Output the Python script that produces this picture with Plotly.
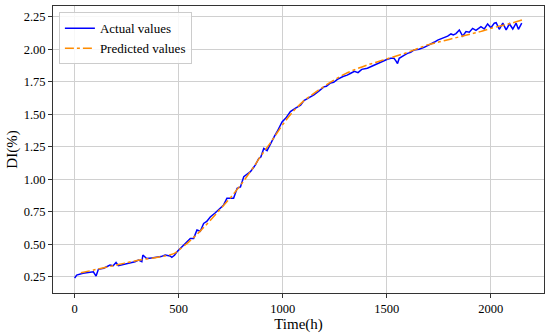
import plotly.graph_objects as go

actual_t = [0, 10, 40, 90, 103, 114, 140, 170, 185, 199, 210, 240, 267, 290, 307, 323, 328, 346,
            370, 394, 415, 435, 459, 467, 480, 491, 510, 531, 556, 572, 588, 604, 620, 635, 652,
            675, 700, 715, 732, 764, 781, 797, 813, 830, 845, 869, 885, 895, 909, 925, 949, 960,
            973, 985, 997, 1015, 1037, 1060, 1086, 1102, 1125, 1150, 1175, 1198, 1210, 1230, 1245,
            1263, 1290, 1310, 1327, 1345, 1362, 1380, 1407, 1430, 1455, 1471, 1503, 1520, 1535,
            1544, 1552, 1560, 1568, 1585, 1600, 1615, 1632, 1655, 1680, 1695, 1712, 1730, 1745,
            1770, 1793, 1809, 1820, 1833, 1849, 1865, 1881, 1897, 1913, 1929, 1945, 1953, 1969,
            1985, 2001, 2017, 2026, 2041, 2058, 2074, 2090, 2106, 2122, 2133, 2149]
actual_v = [0.24, 0.263, 0.276, 0.288, 0.255, 0.307, 0.315, 0.34, 0.335, 0.36, 0.335, 0.345, 0.353,
            0.365, 0.378, 0.366, 0.417, 0.39, 0.395, 0.40, 0.405, 0.417, 0.41, 0.40, 0.415, 0.44,
            0.47, 0.507, 0.545, 0.545, 0.61, 0.60, 0.66, 0.675, 0.71, 0.74, 0.776, 0.80, 0.853,
            0.853, 0.93, 0.94, 1.02, 1.04, 1.058, 1.11, 1.16, 1.17, 1.237, 1.22, 1.30, 1.33, 1.365,
            1.40, 1.44, 1.47, 1.52, 1.545, 1.57, 1.604, 1.625, 1.648, 1.68, 1.71, 1.715, 1.74,
            1.745, 1.768, 1.79, 1.80, 1.815, 1.83, 1.82, 1.845, 1.853, 1.87, 1.89, 1.90, 1.922,
            1.93, 1.93, 1.91, 1.89, 1.93, 1.94, 1.955, 1.968, 1.975, 1.994, 2.00, 2.014, 2.025,
            2.04, 2.055, 2.07, 2.085, 2.10, 2.117, 2.11, 2.12, 2.148, 2.10, 2.135, 2.13, 2.16,
            2.145, 2.165, 2.173, 2.155, 2.194, 2.165, 2.20, 2.204, 2.153, 2.20, 2.148, 2.195,
            2.155, 2.20, 2.153, 2.20]

pred_t = [30, 100, 200, 300, 400, 450, 480, 500, 550, 600, 650, 700, 750, 800, 850, 900, 950,
          1000, 1050, 1100, 1150, 1200, 1250, 1300, 1350, 1400, 1450, 1500, 1550, 1600, 1650,
          1700, 1750, 1800, 1850, 1900, 1950, 2000, 2050, 2100, 2150]
pred_v = [0.28, 0.305, 0.34, 0.375, 0.40, 0.415, 0.43, 0.455, 0.52, 0.595, 0.68, 0.77, 0.86,
          0.96, 1.07, 1.19, 1.30, 1.42, 1.52, 1.60, 1.66, 1.715, 1.765, 1.81, 1.845, 1.875,
          1.90, 1.925, 1.95, 1.975, 2.005, 2.035, 2.055, 2.075, 2.095, 2.115, 2.135, 2.16,
          2.18, 2.20, 2.225]

x_ticks = [0, 500, 1000, 1500, 2000]
y_ticks = [0.25, 0.50, 0.75, 1.00, 1.25, 1.50, 1.75, 2.00, 2.25]
y_labels = ["0.25", "0.50", "0.75", "1.00", "1.25", "1.50", "1.75", "2.00", "2.25"]

font = "Liberation Serif, Times New Roman, serif"

fig = go.Figure()
fig.add_trace(go.Scatter(x=actual_t, y=actual_v, mode="lines", name="Actual values",
                         line=dict(color="#0000ff", width=1.5)))
fig.add_trace(go.Scatter(x=pred_t, y=pred_v, mode="lines", name="Predicted values",
                         line=dict(color="#ff8c00", width=1.5, dash="dashdot", shape="spline")))

axis_common = dict(showline=True, linecolor="#333333", linewidth=1, mirror=True,
                   ticks="outside", ticklen=4, tickcolor="#333333", showgrid=True,
                   gridcolor="#d0d0d0", gridwidth=1, zeroline=False, automargin=False,
                   tickfont=dict(family=font, size=12.5, color="black"))

fig.update_layout(
    width=550, height=335,
    margin=dict(l=53, r=6, t=6, b=42),
    paper_bgcolor="white", plot_bgcolor="white",
    font=dict(family=font, color="black"),
    xaxis=dict(range=[-104, 2256], tickvals=x_ticks,
               title=dict(text="Time(h)", font=dict(family=font, size=15), standoff=2),
               **axis_common),
    yaxis=dict(range=[0.125, 2.332], tickvals=y_ticks, ticktext=y_labels,
               title=dict(text="DI(%)", font=dict(family=font, size=15), standoff=2),
               **axis_common),
    legend=dict(x=0.012, y=0.978, xanchor="left", yanchor="top",
                bgcolor="rgba(255,255,255,0.85)", bordercolor="#cccccc", borderwidth=1,
                font=dict(family=font, size=13), tracegroupgap=0),
    showlegend=True,
)

fig.write_html("out.html", config={"displayModeBar": False},
               post_script="document.body.style.margin='0px';document.body.style.padding='0px';")
